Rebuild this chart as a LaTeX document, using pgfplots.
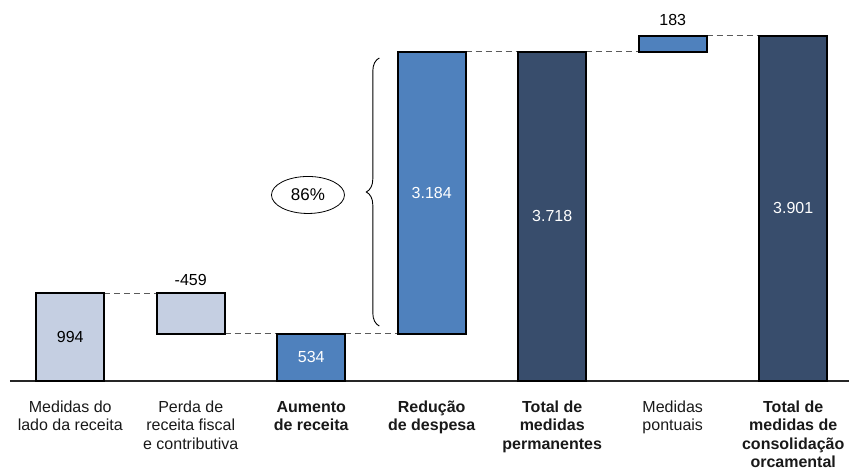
\documentclass[border=0pt]{standalone}
\usepackage{pgfplots}
\pgfplotsset{compat=1.18}
\usetikzlibrary{decorations.pathreplacing,shapes.geometric}
\usepackage{fontspec}
\setmainfont{Liberation Sans}

\definecolor{lightbar}{RGB}{197,207,226}
\definecolor{midbar}{RGB}{79,129,189}
\definecolor{darkbar}{RGB}{56,77,108}
\definecolor{dashgray}{RGB}{90,90,90}

\tikzset{
    wbar/.style={draw=black, line width=1.7pt, line join=miter},
    link/.style={dashgray, line width=1pt, dash pattern=on 6pt off 4pt},
    val/.style={font=\fontsize{16}{18}\selectfont},
}

\begin{document}
\begin{tikzpicture}
\begin{axis}[
    at={(0,0)}, anchor=south west,
    scale only axis,
    width=839pt, height=381pt,
    xmin=-0.5, xmax=6.463,
    ymin=0, ymax=4305,
    axis x line=bottom, axis y line=none,
    x axis line style={-, line width=1.2pt, black!85},
    xtick={0,...,6},
    xticklabels={
        {Medidas do\\lado da receita},
        {Perda de\\receita fiscal\\e contributiva},
        {\textbf{Aumento}\\\textbf{de receita}},
        {\textbf{Redução}\\\textbf{de despesa}},
        {\textbf{Total de}\\\textbf{medidas}\\\textbf{permanentes}},
        {Medidas\\pontuais},
        {\textbf{Total de}\\\textbf{medidas de}\\\textbf{consolidação}\\\textbf{orcamental}}
    },
    major tick length=0pt,
    xticklabel style={align=center, anchor=north, text=black!90,
        font=\fontsize{16}{18.3}\selectfont, yshift=-16.5pt},
    clip=false,
]
% connectors
\addplot[link] coordinates {(0.282,994) (0.718,994)};
\addplot[link] coordinates {(1.282,535) (1.718,535)};
\addplot[link] coordinates {(2.282,534) (2.718,534)};
\addplot[link] coordinates {(3.282,3718) (3.718,3718)};
\addplot[link] coordinates {(4.282,3718) (4.718,3718)};
\addplot[link] coordinates {(5.282,3901) (5.718,3901)};

% bars (low, high)
\addplot[wbar, fill=lightbar] coordinates {(-0.282,0) (0.282,0) (0.282,994) (-0.282,994) (-0.282,0)} -- cycle;
\addplot[wbar, fill=lightbar] coordinates {(0.718,535) (1.282,535) (1.282,994) (0.718,994) (0.718,535)} -- cycle;
\addplot[wbar, fill=midbar] coordinates {(1.718,0) (2.282,0) (2.282,534) (1.718,534) (1.718,0)} -- cycle;
\addplot[wbar, fill=midbar] coordinates {(2.718,534) (3.282,534) (3.282,3718) (2.718,3718) (2.718,534)} -- cycle;
\addplot[wbar, fill=darkbar] coordinates {(3.718,0) (4.282,0) (4.282,3718) (3.718,3718) (3.718,0)} -- cycle;
\addplot[wbar, fill=midbar] coordinates {(4.718,3718) (5.282,3718) (5.282,3901) (4.718,3901) (4.718,3718)} -- cycle;
\addplot[wbar, fill=darkbar] coordinates {(5.718,0) (6.282,0) (6.282,3901) (5.718,3901) (5.718,0)} -- cycle;

% values
\node[val] at (axis cs:0,497) {994};
\node[val] at (axis cs:1,1141) {-459};
\node[val, text=white] at (axis cs:2,267) {534};
\node[val, text=white] at (axis cs:3,2126) {3.184};
\node[val, text=white] at (axis cs:4,1859) {3.718};
\node[val] at (axis cs:5,4079) {183};
\node[val, text=white] at (axis cs:6,1950) {3.901};

% brace and share
\draw[decorate, decoration={brace, amplitude=13pt, aspect=0.5}, line width=0.9pt]
    (axis cs:2.565,621) -- (axis cs:2.565,3650);
\node[draw, ellipse, minimum width=73pt, minimum height=37pt, inner sep=0pt,
    line width=0.8pt, font=\fontsize{17}{18}\selectfont]
    at (axis cs:1.973,2102) {86\%};
\end{axis}
\pgfresetboundingbox
\useasboundingbox (-10pt,-91pt) rectangle (839pt,381pt);
\end{tikzpicture}
\end{document}
